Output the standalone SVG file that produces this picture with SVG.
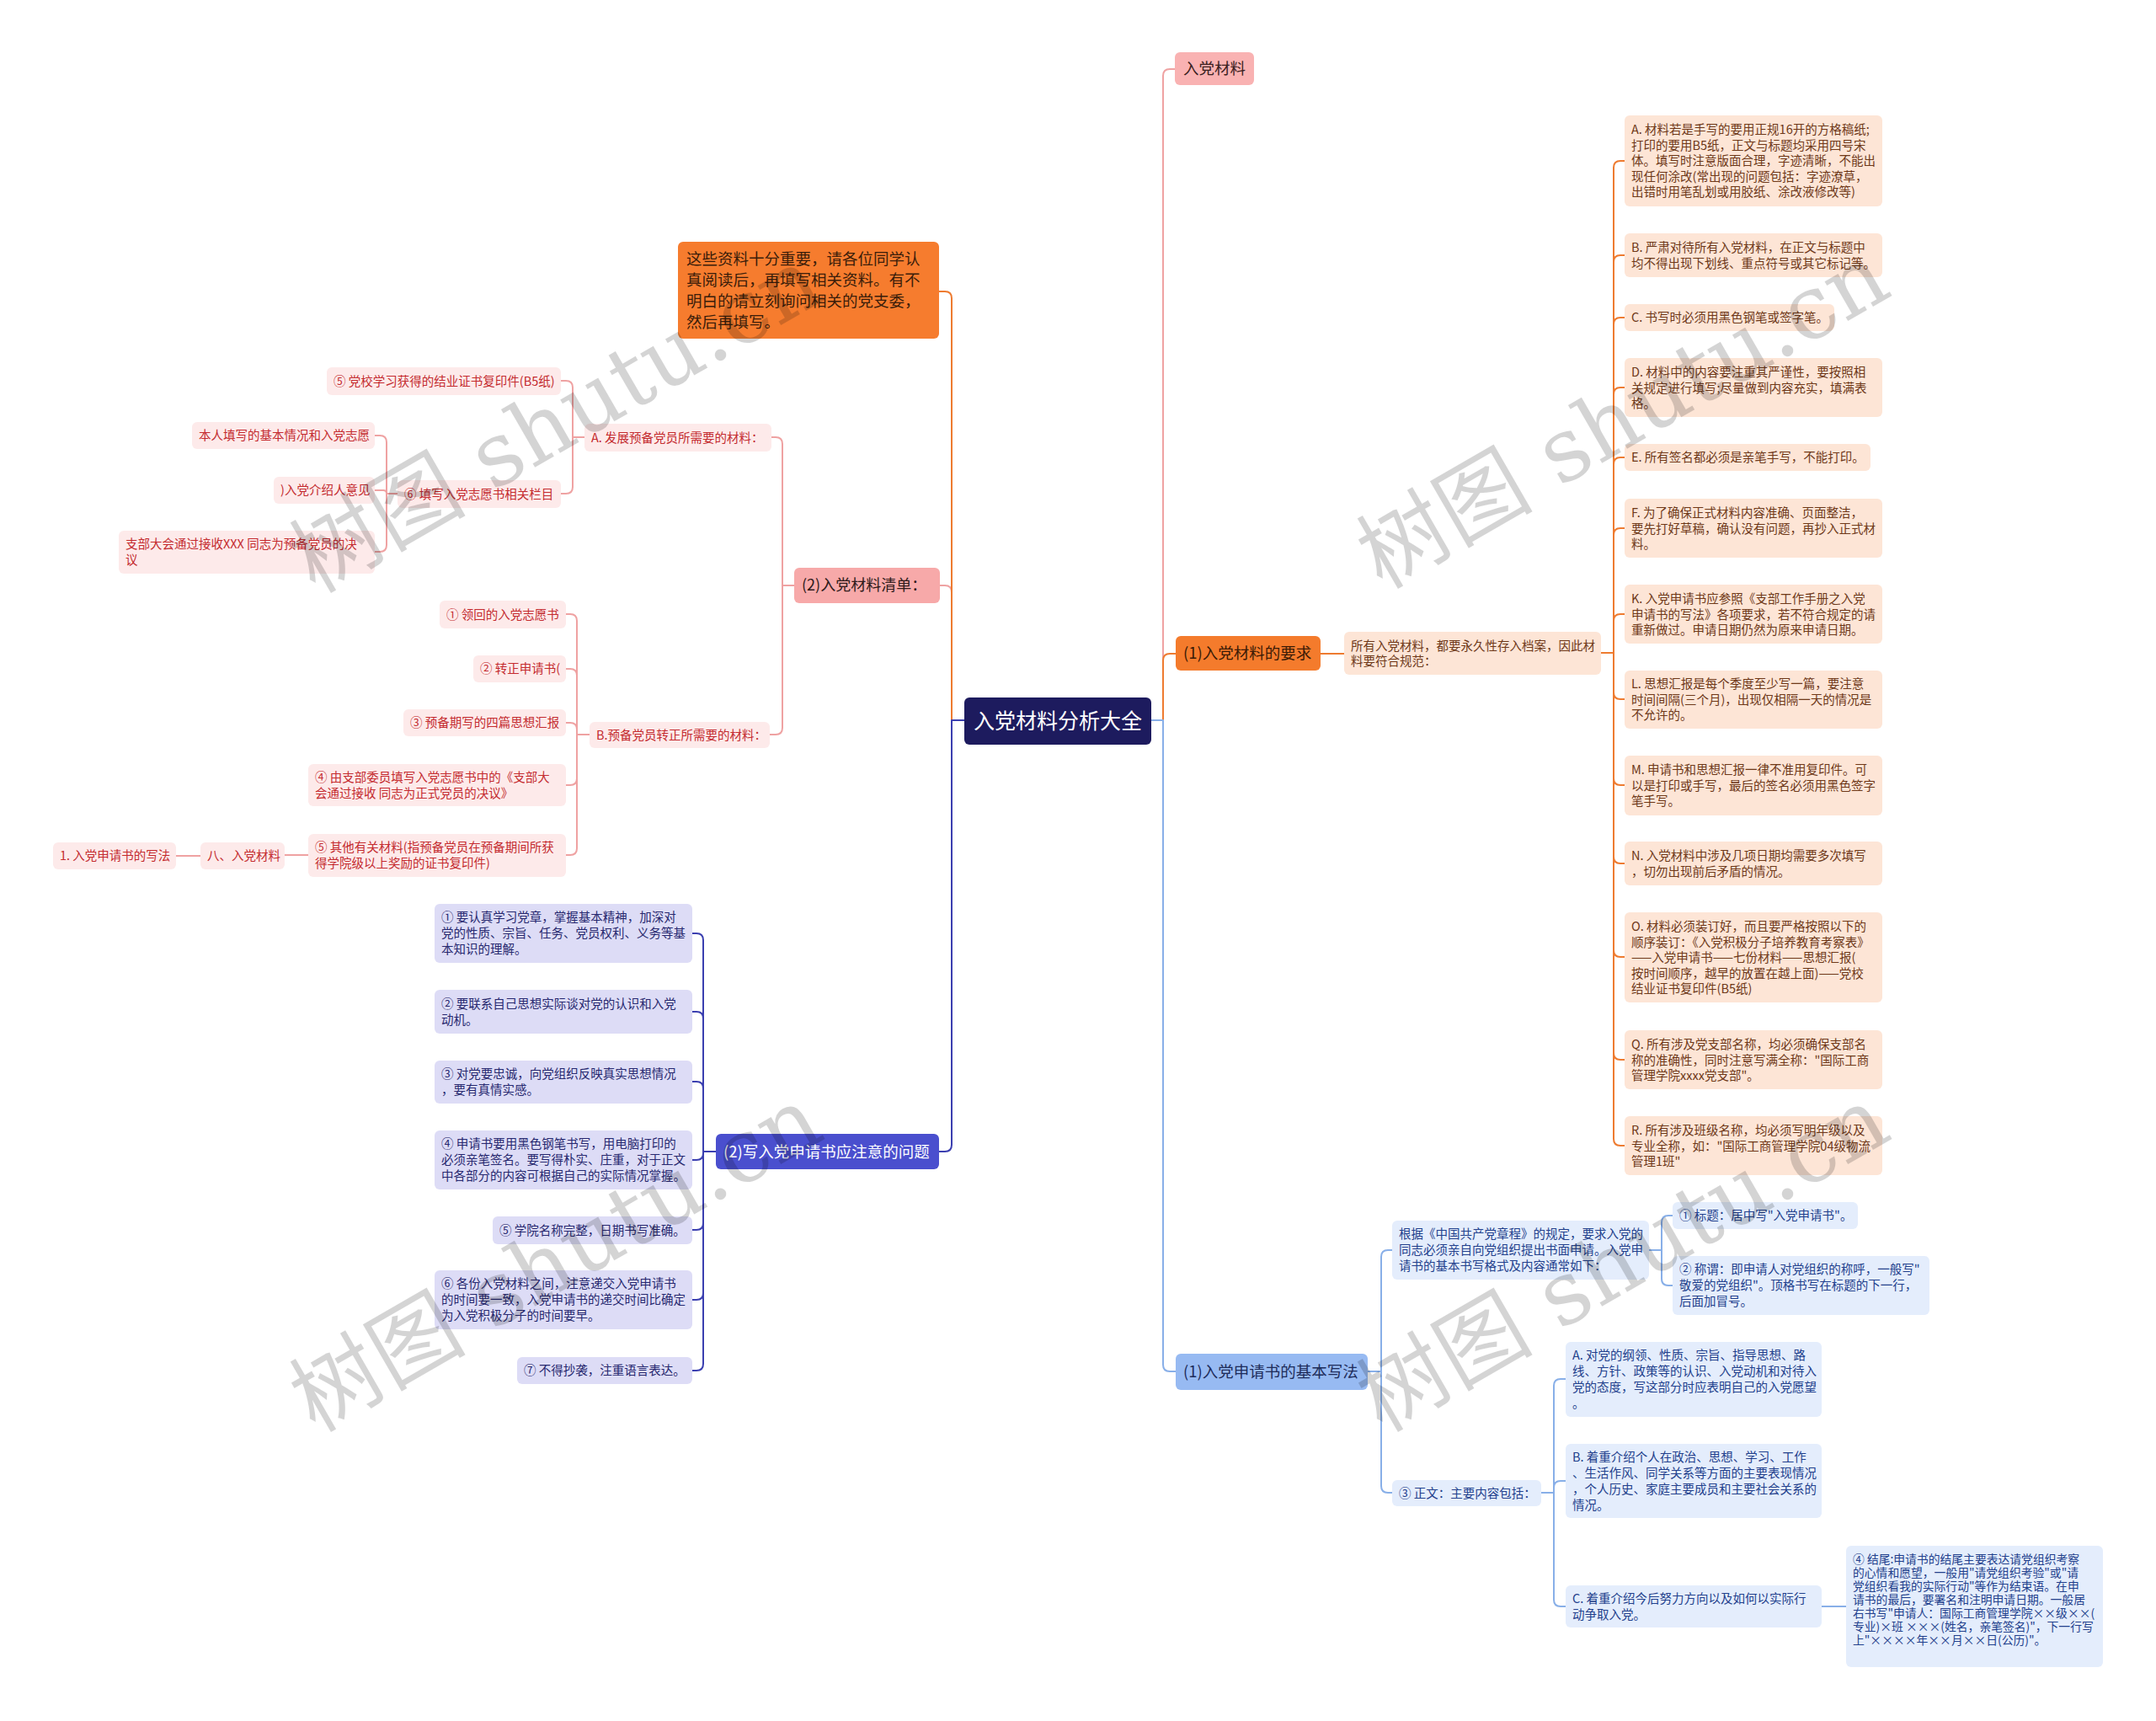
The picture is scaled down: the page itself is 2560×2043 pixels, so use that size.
<svg xmlns="http://www.w3.org/2000/svg" width="2560" height="2043" viewBox="0 0 2560 2043">
<style>
text{font-family:"Noto Sans CJK SC","Noto Sans",sans-serif;}
.f15{font-size:14.5px}
.f14{font-size:13.8px}
.f18{font-size:18px}
.f19{font-size:18.5px}
.f25{font-size:25px}
.cn{fill:none;stroke-width:2;stroke-linecap:round;stroke-linejoin:round}
.co{stroke:#ee7b30}
.cp{stroke:#efa2a2}
.ci{stroke:#3b3fb0}
.cb{stroke:#88afe8}
.lp rect{fill:#fdeaea}
.lp text{fill:#c42b2f}
.lo rect{fill:#fde5d6}
.lo text{fill:#6e3818}
.li rect{fill:#dddcf6}
.li text{fill:#27286f}
.lb rect{fill:#e4edfc}
.lb text{fill:#22408c}
.wm{font-family:"DejaVu Serif","Noto Sans CJK SC",serif;font-size:105px;fill:#000;fill-opacity:0.17}
</style>
<rect width="2560" height="2043" fill="#ffffff"/>

<g id="connectors">
<path class="cn cp" d="M1367 855 H1381 V90 Q1381 82 1389 82 H1395"/>
<path class="cn co" d="M1367 855 H1381 V784 Q1381 776 1389 776 H1396"/>
<path class="cn cb" d="M1367 855 H1381 V1620 Q1381 1628 1389 1628 H1396"/>
<path class="cn cp" d="M1145 855 H1130 V703 Q1130 695 1122 695 H1116"/>
<path class="cn co" d="M1145 855 H1130 V354 Q1130 346 1122 346 H1115"/>
<path class="cn ci" d="M1145 855 H1130 V1359 Q1130 1367 1122 1367 H1115"/>

<path class="cn cp" d="M943 695 H929 V527 Q929 519 921 519 H916"/>
<path class="cn cp" d="M943 695 H929 V864 Q929 872 921 872 H914"/>
<path class="cn cp" d="M694 519 H680 V460 Q680 452 672 452 H666"/>
<path class="cn cp" d="M694 519 H680 V578 Q680 586 672 586 H666"/>
<path class="cn cp" d="M472 586 H459 V525 Q459 517 451 517 H445"/>
<path class="cn cp" d="M472 586 H459 Q459 582 455 582 H445"/>
<path class="cn cp" d="M472 586 H459 V647 Q459 655 451 655 H445"/>
<path class="cn cp" d="M700 872 H685 V737 Q685 729 677 729 H672"/>
<path class="cn cp" d="M700 872 H685 V802 Q685 794 677 794 H672"/>
<path class="cn cp" d="M700 872 H685 V866 Q685 858 677 858 H672"/>
<path class="cn cp" d="M700 872 H685 V924 Q685 932 677 932 H672"/>
<path class="cn cp" d="M700 872 H685 V1007 Q685 1015 677 1015 H672"/>
<path class="cn cp" d="M366 1015 H338"/>
<path class="cn cp" d="M238 1016 H209"/>

<path class="cn ci" d="M850 1367 H835 V1116 Q835 1108 827 1108 H822"/>
<path class="cn ci" d="M850 1367 H835 V1209 Q835 1201 827 1201 H822"/>
<path class="cn ci" d="M850 1367 H835 V1292 Q835 1284 827 1284 H822"/>
<path class="cn ci" d="M850 1367 H835 V1369 Q835 1377 827 1377 H822"/>
<path class="cn ci" d="M850 1367 H835 V1452 Q835 1460 827 1460 H822"/>
<path class="cn ci" d="M850 1367 H835 V1535 Q835 1543 827 1543 H822"/>
<path class="cn ci" d="M850 1367 H835 V1619 Q835 1627 827 1627 H822"/>

<path class="cn co" d="M1568 776 H1596"/>
<path class="cn co" d="M1901 775 H1916 V199 Q1916 191 1924 191 H1929"/>
<path class="cn co" d="M1901 775 H1916 V311 Q1916 303 1924 303 H1929"/>
<path class="cn co" d="M1901 775 H1916 V385 Q1916 377 1924 377 H1929"/>
<path class="cn co" d="M1901 775 H1916 V468 Q1916 460 1924 460 H1929"/>
<path class="cn co" d="M1901 775 H1916 V551 Q1916 543 1924 543 H1929"/>
<path class="cn co" d="M1901 775 H1916 V635 Q1916 627 1924 627 H1929"/>
<path class="cn co" d="M1901 775 H1916 V737 Q1916 729 1924 729 H1929"/>
<path class="cn co" d="M1901 775 H1916 V822 Q1916 830 1924 830 H1929"/>
<path class="cn co" d="M1901 775 H1916 V924 Q1916 932 1924 932 H1929"/>
<path class="cn co" d="M1901 775 H1916 V1017 Q1916 1025 1924 1025 H1929"/>
<path class="cn co" d="M1901 775 H1916 V1128 Q1916 1136 1924 1136 H1929"/>
<path class="cn co" d="M1901 775 H1916 V1250 Q1916 1258 1924 1258 H1929"/>
<path class="cn co" d="M1901 775 H1916 V1352 Q1916 1360 1924 1360 H1929"/>

<path class="cn cb" d="M1624 1628 H1640 V1492 Q1640 1484 1648 1484 H1653"/>
<path class="cn cb" d="M1624 1628 H1640 V1764 Q1640 1772 1648 1772 H1653"/>
<path class="cn cb" d="M1958 1484 H1973 V1451 Q1973 1443 1981 1443 H1986"/>
<path class="cn cb" d="M1958 1484 H1973 V1518 Q1973 1526 1981 1526 H1986"/>
<path class="cn cb" d="M1830 1772 H1845 V1645 Q1845 1637 1853 1637 H1859"/>
<path class="cn cb" d="M1830 1772 H1845 V1766 Q1845 1758 1853 1758 H1859"/>
<path class="cn cb" d="M1830 1772 H1845 V1899 Q1845 1907 1853 1907 H1859"/>
<path class="cn cb" d="M2163 1907 H2192"/>
</g>

<g id="root">
<rect x="1145" y="828" width="222" height="56" rx="6" fill="#1d1b5e"/>
<text class="f25" x="1256" y="865" text-anchor="middle" fill="#ffffff">入党材料分析大全</text>
</g>

<g id="n-rudang-cailiao">
<rect x="1395" y="62" width="94" height="39" rx="6" fill="#f9b2b2"/>
<text class="f19" x="1405" y="88" fill="#3a2020">入党材料</text>
</g>

<g id="n-yaoqiu">
<rect x="1396" y="755" width="172" height="41" rx="6" fill="#f47b2c"/>
<text class="f19" x="1405" y="782" fill="#3a1a06">(1)入党材料的要求</text>
</g>

<g id="n-xiefa">
<rect x="1396" y="1607" width="228" height="43" rx="6" fill="#97baf2"/>
<text class="f19" x="1405" y="1635" fill="#1e2c5a">(1)入党申请书的基本写法</text>
</g>

<g id="n-note">
<rect x="805" y="287" width="310" height="115" rx="6" fill="#f67c2e"/>
<text class="f19" fill="#3a1d0a"><tspan x="815" y="314">这些资料十分重要，请各位同学认</tspan><tspan x="815" y="339">真阅读后，再填写相关资料。有不</tspan><tspan x="815" y="364">明白的请立刻询问相关的党支委，</tspan><tspan x="815" y="389">然后再填写。</tspan></text>
</g>

<g id="n-qingdan">
<rect x="943" y="674" width="173" height="42" rx="6" fill="#f7a9a9"/>
<text class="f18" x="952" y="701" fill="#2e1a1a">(2)入党材料清单：</text>
</g>

<g id="n-wenti">
<rect x="850" y="1346" width="265" height="42" rx="6" fill="#4a4fce"/>
<text class="f19" x="859" y="1374" fill="#ffffff">(2)写入党申请书应注意的问题</text>
</g>

<g id="n-A-fazhan" class="lp">
<rect x="694" y="503" width="222" height="33" rx="6"/>
<text class="f15" x="702" y="525">A. 发展预备党员所需要的材料：</text>
</g>
<g id="n-B-zhuanzheng" class="lp">
<rect x="700" y="857" width="214" height="31" rx="6"/>
<text class="f15" x="708" y="878">B.预备党员转正所需要的材料：</text>
</g>
<g id="n-A5" class="lp">
<rect x="388" y="436" width="278" height="33" rx="6"/>
<text class="f15" x="396" y="458">⑤ 党校学习获得的结业证书复印件(B5纸)</text>
</g>
<g id="n-A6" class="lp">
<rect x="472" y="570" width="194" height="33" rx="6"/>
<text class="f15" x="480" y="592">⑥ 填写入党志愿书相关栏目</text>
</g>
<g id="n-A6a" class="lp">
<rect x="228" y="501" width="217" height="32" rx="6"/>
<text class="f15" x="236" y="522">本人填写的基本情况和入党志愿</text>
</g>
<g id="n-A6b" class="lp">
<rect x="325" y="566" width="120" height="32" rx="6"/>
<text class="f15" x="333" y="587">)入党介绍人意见</text>
</g>
<g id="n-A6c" class="lp">
<rect x="141" y="630" width="304" height="51" rx="6"/>
<text class="f15"><tspan x="149" y="651">支部大会通过接收XXX 同志为预备党员的决</tspan><tspan x="149" y="670">议</tspan></text>
</g>
<g id="n-B1" class="lp">
<rect x="522" y="713" width="150" height="33" rx="6"/>
<text class="f15" x="530" y="735">① 领回的入党志愿书</text>
</g>
<g id="n-B2" class="lp">
<rect x="562" y="778" width="110" height="32" rx="6"/>
<text class="f15" x="570" y="799">② 转正申请书(</text>
</g>
<g id="n-B3" class="lp">
<rect x="479" y="842" width="193" height="32" rx="6"/>
<text class="f15" x="487" y="863">③ 预备期写的四篇思想汇报</text>
</g>
<g id="n-B4" class="lp">
<rect x="366" y="907" width="306" height="50" rx="6"/>
<text class="f15"><tspan x="374" y="928">④ 由支部委员填写入党志愿书中的《支部大</tspan><tspan x="374" y="946.5">会通过接收 同志为正式党员的决议》</tspan></text>
</g>
<g id="n-B5" class="lp">
<rect x="366" y="990" width="306" height="51" rx="6"/>
<text class="f15"><tspan x="374" y="1011">⑤ 其他有关材料(指预备党员在预备期间所获</tspan><tspan x="374" y="1029.5">得学院级以上奖励的证书复印件)</tspan></text>
</g>
<g id="n-ba" class="lp">
<rect x="238" y="1000" width="100" height="32" rx="6"/>
<text class="f15" x="246" y="1021">八、入党材料</text>
</g>
<g id="n-ba1" class="lp">
<rect x="63" y="1000" width="146" height="32" rx="6"/>
<text class="f15" x="71" y="1021">1. 入党申请书的写法</text>
</g>

<g id="n-W1" class="li">
<rect x="516" y="1073" width="306" height="70" rx="6"/>
<text class="f15"><tspan x="524" y="1094">① 要认真学习党章，掌握基本精神，加深对</tspan><tspan x="524" y="1113">党的性质、宗旨、任务、党员权利、义务等基</tspan><tspan x="524" y="1132">本知识的理解。</tspan></text>
</g>
<g id="n-W2" class="li">
<rect x="516" y="1175" width="306" height="52" rx="6"/>
<text class="f15"><tspan x="524" y="1197">② 要联系自己思想实际谈对党的认识和入党</tspan><tspan x="524" y="1216">动机。</tspan></text>
</g>
<g id="n-W3" class="li">
<rect x="516" y="1259" width="306" height="51" rx="6"/>
<text class="f15"><tspan x="524" y="1280">③ 对党要忠诚，向党组织反映真实思想情况</tspan><tspan x="524" y="1299">，要有真情实感。</tspan></text>
</g>
<g id="n-W4" class="li">
<rect x="516" y="1342" width="306" height="70" rx="6"/>
<text class="f15"><tspan x="524" y="1363">④ 申请书要用黑色钢笔书写，用电脑打印的</tspan><tspan x="524" y="1382">必须亲笔签名。要写得朴实、庄重，对于正文</tspan><tspan x="524" y="1401">中各部分的内容可根据自己的实际情况掌握。</tspan></text>
</g>
<g id="n-W5" class="li">
<rect x="585" y="1444" width="237" height="33" rx="6"/>
<text class="f15" x="593" y="1466">⑤ 学院名称完整，日期书写准确。</text>
</g>
<g id="n-W6" class="li">
<rect x="516" y="1508" width="306" height="70" rx="6"/>
<text class="f15"><tspan x="524" y="1529">⑥ 各份入党材料之间，注意递交入党申请书</tspan><tspan x="524" y="1548">的时间要一致，入党申请书的递交时间比确定</tspan><tspan x="524" y="1567">为入党积极分子的时间要早。</tspan></text>
</g>
<g id="n-W7" class="li">
<rect x="614" y="1611" width="208" height="32" rx="6"/>
<text class="f15" x="622" y="1632">⑦ 不得抄袭，注重语言表达。</text>
</g>

<g id="n-suoyou" class="lo">
<rect x="1596" y="750" width="305" height="51" rx="6"/>
<text class="f15"><tspan x="1604" y="772">所有入党材料，都要永久性存入档案，因此材</tspan><tspan x="1604" y="790">料要符合规范：</tspan></text>
</g>
<g id="n-RA" class="lo">
<rect x="1929" y="137" width="306" height="108" rx="6"/>
<text class="f15"><tspan x="1937" y="159">A. 材料若是手写的要用正规16开的方格稿纸;</tspan><tspan x="1937" y="177.5">打印的要用B5纸，正文与标题均采用四号宋</tspan><tspan x="1937" y="196">体。填写时注意版面合理，字迹清晰，不能出</tspan><tspan x="1937" y="214.5">现任何涂改(常出现的问题包括：字迹潦草，</tspan><tspan x="1937" y="233">出错时用笔乱划或用胶纸、涂改液修改等)</tspan></text>
</g>
<g id="n-RB" class="lo">
<rect x="1929" y="277" width="306" height="52" rx="6"/>
<text class="f15"><tspan x="1937" y="299">B. 严肃对待所有入党材料，在正文与标题中</tspan><tspan x="1937" y="317.5">均不得出现下划线、重点符号或其它标记等。</tspan></text>
</g>
<g id="n-RC" class="lo">
<rect x="1929" y="361" width="249" height="32" rx="6"/>
<text class="f15" x="1937" y="382">C. 书写时必须用黑色钢笔或签字笔。</text>
</g>
<g id="n-RD" class="lo">
<rect x="1929" y="425" width="306" height="70" rx="6"/>
<text class="f15"><tspan x="1937" y="447">D. 材料中的内容要注重其严谨性，要按照相</tspan><tspan x="1937" y="465.5">关规定进行填写;尽量做到内容充实，填满表</tspan><tspan x="1937" y="484">格。</tspan></text>
</g>
<g id="n-RE" class="lo">
<rect x="1929" y="527" width="292" height="32" rx="6"/>
<text class="f15" x="1937" y="548">E. 所有签名都必须是亲笔手写，不能打印。</text>
</g>
<g id="n-RF" class="lo">
<rect x="1929" y="592" width="306" height="70" rx="6"/>
<text class="f15"><tspan x="1937" y="614">F. 为了确保正式材料内容准确、页面整洁，</tspan><tspan x="1937" y="632.5">要先打好草稿，确认没有问题，再抄入正式材</tspan><tspan x="1937" y="651">料。</tspan></text>
</g>
<g id="n-RK" class="lo">
<rect x="1929" y="694" width="306" height="70" rx="6"/>
<text class="f15"><tspan x="1937" y="716">K. 入党申请书应参照《支部工作手册之入党</tspan><tspan x="1937" y="734.5">申请书的写法》各项要求，若不符合规定的请</tspan><tspan x="1937" y="753">重新做过。申请日期仍然为原来申请日期。</tspan></text>
</g>
<g id="n-RL" class="lo">
<rect x="1929" y="796" width="306" height="69" rx="6"/>
<text class="f15"><tspan x="1937" y="817">L. 思想汇报是每个季度至少写一篇，要注意</tspan><tspan x="1937" y="835.5">时间间隔(三个月)，出现仅相隔一天的情况是</tspan><tspan x="1937" y="854">不允许的。</tspan></text>
</g>
<g id="n-RM" class="lo">
<rect x="1929" y="897" width="306" height="71" rx="6"/>
<text class="f15"><tspan x="1937" y="919">M. 申请书和思想汇报一律不准用复印件。可</tspan><tspan x="1937" y="937.5">以是打印或手写，最后的签名必须用黑色签字</tspan><tspan x="1937" y="956">笔手写。</tspan></text>
</g>
<g id="n-RN" class="lo">
<rect x="1929" y="999" width="306" height="52" rx="6"/>
<text class="f15"><tspan x="1937" y="1021">N. 入党材料中涉及几项日期均需要多次填写</tspan><tspan x="1937" y="1039.5">，切勿出现前后矛盾的情况。</tspan></text>
</g>
<g id="n-RO" class="lo">
<rect x="1929" y="1083" width="306" height="107" rx="6"/>
<text class="f15"><tspan x="1937" y="1105">O. 材料必须装订好，而且要严格按照以下的</tspan><tspan x="1937" y="1123.5">顺序装订：《入党积极分子培养教育考察表》</tspan><tspan x="1937" y="1142">——入党申请书——七份材料——思想汇报(</tspan><tspan x="1937" y="1160.5">按时间顺序，越早的放置在越上面)——党校</tspan><tspan x="1937" y="1179">结业证书复印件(B5纸)</tspan></text>
</g>
<g id="n-RQ" class="lo">
<rect x="1929" y="1223" width="306" height="70" rx="6"/>
<text class="f15"><tspan x="1937" y="1245">Q. 所有涉及党支部名称，均必须确保支部名</tspan><tspan x="1937" y="1263.5">称的准确性，同时注意写满全称："国际工商</tspan><tspan x="1937" y="1282">管理学院xxxx党支部"。</tspan></text>
</g>
<g id="n-RR" class="lo">
<rect x="1929" y="1325" width="306" height="70" rx="6"/>
<text class="f15"><tspan x="1937" y="1347">R. 所有涉及班级名称，均必须写明年级以及</tspan><tspan x="1937" y="1365.5">专业全称，如："国际工商管理学院04级物流</tspan><tspan x="1937" y="1384">管理1班"</tspan></text>
</g>

<g id="n-genju" class="lb">
<rect x="1653" y="1449" width="305" height="70" rx="6"/>
<text class="f15"><tspan x="1661" y="1470">根据《中国共产党章程》的规定，要求入党的</tspan><tspan x="1661" y="1489">同志必须亲自向党组织提出书面申请。入党申</tspan><tspan x="1661" y="1508">请书的基本书写格式及内容通常如下：</tspan></text>
</g>
<g id="n-biaoti" class="lb">
<rect x="1986" y="1427" width="220" height="32" rx="6"/>
<text class="f15" x="1994" y="1448">① 标题：居中写"入党申请书"。</text>
</g>
<g id="n-chengwei" class="lb">
<rect x="1986" y="1491" width="305" height="70" rx="6"/>
<text class="f15"><tspan x="1994" y="1512">② 称谓：即申请人对党组织的称呼，一般写"</tspan><tspan x="1994" y="1531">敬爱的党组织"。顶格书写在标题的下一行，</tspan><tspan x="1994" y="1550">后面加冒号。</tspan></text>
</g>
<g id="n-zhengwen" class="lb">
<rect x="1653" y="1757" width="177" height="31" rx="6"/>
<text class="f15" x="1661" y="1778">③ 正文：主要内容包括：</text>
</g>
<g id="n-ZA" class="lb">
<rect x="1859" y="1593" width="304" height="89" rx="6"/>
<text class="f15"><tspan x="1867" y="1614">A. 对党的纲领、性质、宗旨、指导思想、路</tspan><tspan x="1867" y="1633">线、方针、政策等的认识、入党动机和对待入</tspan><tspan x="1867" y="1652">党的态度，写这部分时应表明自己的入党愿望</tspan><tspan x="1867" y="1671">。</tspan></text>
</g>
<g id="n-ZB" class="lb">
<rect x="1859" y="1714" width="304" height="88" rx="6"/>
<text class="f15"><tspan x="1867" y="1735">B. 着重介绍个人在政治、思想、学习、工作</tspan><tspan x="1867" y="1754">、生活作风、同学关系等方面的主要表现情况</tspan><tspan x="1867" y="1773">，个人历史、家庭主要成员和主要社会关系的</tspan><tspan x="1867" y="1792">情况。</tspan></text>
</g>
<g id="n-ZC" class="lb">
<rect x="1859" y="1882" width="304" height="50" rx="6"/>
<text class="f15"><tspan x="1867" y="1903">C. 着重介绍今后努力方向以及如何以实际行</tspan><tspan x="1867" y="1922">动争取入党。</tspan></text>
</g>
<g id="n-jiewei" class="lb">
<rect x="2192" y="1835" width="305" height="144" rx="6"/>
<text class="f14"><tspan x="2200" y="1856">④ 结尾:申请书的结尾主要表达请党组织考察</tspan><tspan x="2200" y="1872">的心情和愿望，一般用"请党组织考验"或"请</tspan><tspan x="2200" y="1888">党组织看我的实际行动"等作为结束语。在申</tspan><tspan x="2200" y="1904">请书的最后，要署名和注明申请日期。一般居</tspan><tspan x="2200" y="1920">右书写"申请人：国际工商管理学院××级××(</tspan><tspan x="2200" y="1936">专业)×班 ×××(姓名，亲笔签名)"，下一行写</tspan><tspan x="2200" y="1952">上"××××年××月××日(公历)"。</tspan></text>
</g>

<g id="watermarks">
<text class="wm" x="678" y="530" text-anchor="middle" transform="rotate(-30 678 530)">树图 shutu.cn</text>
<text class="wm" x="1945" y="525" text-anchor="middle" transform="rotate(-30 1945 525)">树图 shutu.cn</text>
<text class="wm" x="678" y="1526" text-anchor="middle" transform="rotate(-30 678 1526)">树图 shutu.cn</text>
<text class="wm" x="1945" y="1526" text-anchor="middle" transform="rotate(-30 1945 1526)">树图 shutu.cn</text>
</g>
</svg>
